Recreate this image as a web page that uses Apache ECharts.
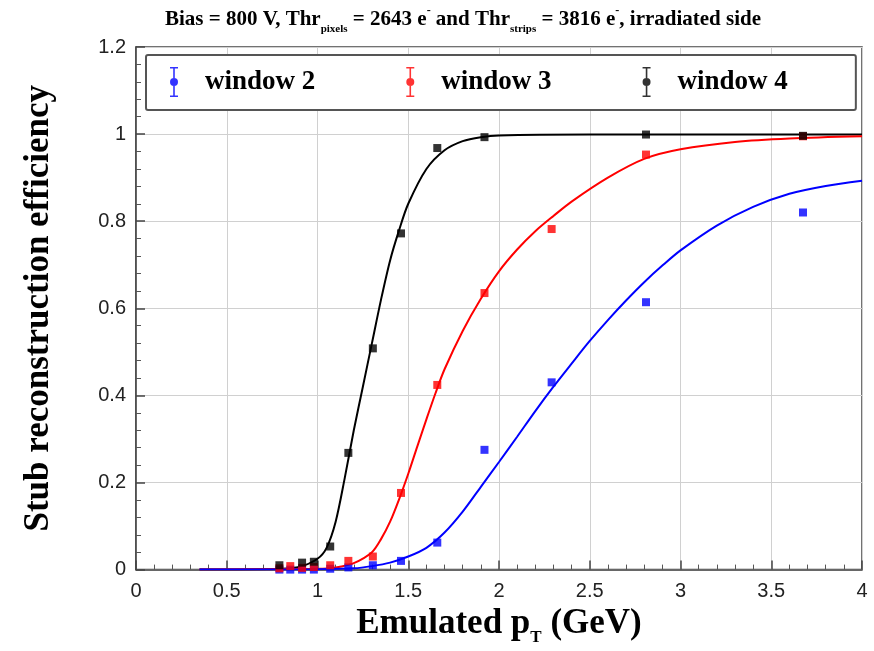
<!DOCTYPE html>
<html><head><meta charset="utf-8">
<script src="https://cdn.jsdelivr.net/npm/echarts@6/dist/echarts.min.js"></script>
<style>html,body{margin:0;padding:0;background:#fff}#c{width:874px;height:651px}</style>
</head><body><div id="c"></div>
<script>
// Measured points (x = emulated pT in GeV, y = efficiency)
const w2Points = [[0.79,0.0],[0.85,0.0],[0.915,0.0],[0.98,0.0],[1.07,0.002],[1.17,0.005],[1.305,0.01],[1.46,0.02],[1.66,0.062],[1.92,0.275],[2.29,0.43],[2.81,0.614],[3.675,0.82]];
const w3Points = [[0.79,0.003],[0.85,0.008],[0.915,0.004],[0.98,0.006],[1.07,0.01],[1.17,0.02],[1.305,0.03],[1.46,0.176],[1.66,0.424],[1.92,0.635],[2.29,0.782],[2.81,0.953],[3.675,0.995]];
const w4Points = [[0.79,0.01],[0.915,0.016],[0.98,0.018],[1.07,0.053],[1.17,0.268],[1.305,0.508],[1.46,0.772],[1.66,0.968],[1.92,0.993],[2.81,0.999],[3.675,0.996]];
// Fit curves
const w2Fit = [[0.35,0],[1.0,0.001],[1.2,0.003],[1.3,0.008],[1.4,0.016],[1.5,0.03],[1.6,0.05],[1.7,0.085],[1.8,0.133],[1.9,0.19],[2.0,0.247],[2.1,0.305],[2.2,0.364],[2.3,0.42],[2.4,0.473],[2.5,0.525],[2.6,0.573],[2.7,0.618],[2.8,0.66],[2.9,0.698],[3.0,0.733],[3.2,0.79],[3.4,0.833],[3.6,0.863],[3.8,0.881],[4.0,0.893]];
const w3Fit = [[0.35,0],[1.0,0.002],[1.1,0.005],[1.2,0.015],[1.3,0.04],[1.35,0.07],[1.4,0.11],[1.45,0.162],[1.5,0.22],[1.55,0.283],[1.6,0.345],[1.65,0.405],[1.7,0.46],[1.8,0.548],[1.9,0.622],[2.0,0.685],[2.1,0.735],[2.2,0.777],[2.3,0.812],[2.4,0.845],[2.6,0.9],[2.8,0.943],[3.0,0.965],[3.3,0.982],[3.6,0.99],[4.0,0.995]];
const w4Fit = [[0.35,0],[0.8,0.002],[0.9,0.006],[1.0,0.025],[1.05,0.05],[1.1,0.11],[1.15,0.21],[1.2,0.32],[1.25,0.42],[1.3,0.52],[1.35,0.62],[1.4,0.71],[1.45,0.78],[1.5,0.84],[1.6,0.92],[1.7,0.963],[1.8,0.984],[1.9,0.993],[2.0,0.997],[2.5,0.999],[4.0,0.999]];
const seriesNames = ['window 2','window 3','window 4'];
const seriesColors = ['#0000ff','#ff0000','#000000'];
const xTicks = {min:0, max:4, interval:0.5};
const yTicks = {min:0, max:1.2, interval:0.2};

const errIcon = 'path://M2,0 H10 V1.6 H2 Z M5.2,0 H6.8 V30 H5.2 Z M2,28.4 H10 V30 H2 Z M2,15 A4,4 0 1,1 10,15 A4,4 0 1,1 2,15 Z';
const serif = '"Liberation Serif","Times New Roman",serif';
const sans = '"Liberation Sans",Arial,sans-serif';

const chart = echarts.init(document.getElementById('c'), null, {renderer:'canvas'});
const fits = [w2Fit, w3Fit, w4Fit];
const pts = [w2Points, w3Points, w4Points];
const series = [];
[2,1,0].forEach(i => {
  series.push({type:'line', name:seriesNames[i]+' fit', data:fits[i], smooth:0.3, showSymbol:false, silent:true,
    lineStyle:{color:seriesColors[i], width:2}, z:2});
});
[0,1,2].forEach(i => {
  series.push({type:'scatter', name:seriesNames[i], data:pts[i], symbol:'rect', symbolSize:8,
    itemStyle:{color:seriesColors[i]}, z:3});
});

chart.setOption({
  animation:false,
  backgroundColor:'#fff',
  title:{
    left:160, top:0,
    text:'{b|Bias = 800 V, Thr}{sub|pixels}{b| = 2643 e}{sup|-}{b| and Thr}{sub|strips}{b| = 3816 e}{sup|-}{b|, irradiated side}',
    textStyle:{rich:{
      b:{fontFamily:serif, fontWeight:'bold', fontSize:21, color:'#000', lineHeight:30},
      sub:{fontFamily:serif, fontWeight:'bold', fontSize:11, color:'#000', verticalAlign:'bottom', lineHeight:12},
      sup:{fontFamily:serif, fontWeight:'bold', fontSize:12, color:'#000', verticalAlign:'top', lineHeight:14}
    }}
  },
  grid:{left:136, right:12, top:47, bottom:80, show:true, borderColor:'#444', borderWidth:1.5, backgroundColor:'transparent'},
  legend:{
    left:146, top:55,
    padding:[12,68,13,24],
    itemGap:91,
    itemWidth:12, itemHeight:30,
    borderColor:'#555', borderWidth:2, borderRadius:2, backgroundColor:'#fff',
    data:seriesNames.map((n,i)=>({name:n, icon:errIcon, itemStyle:{color:seriesColors[i]}})),
    textStyle:{fontFamily:serif, fontWeight:'bold', fontSize:27, color:'#000', padding:[0,0,0,20]}
  },
  xAxis:{
    type:'value', min:xTicks.min, max:xTicks.max, interval:xTicks.interval,
    name:'{b|Emulated p}{sub|T}{b| (GeV)}', nameLocation:'middle', nameGap:32,
    nameTextStyle:{rich:{
      b:{fontFamily:serif, fontWeight:'bold', fontSize:35, color:'#000', lineHeight:44},
      sub:{fontFamily:serif, fontWeight:'bold', fontSize:17, color:'#000', verticalAlign:'bottom', lineHeight:18}
    }},
    axisLine:{show:true, onZero:false, lineStyle:{color:'#444', width:1.5}},
    axisTick:{show:true, inside:true, length:9, lineStyle:{color:'#444', width:1.5}},
    minorTick:{show:true, splitNumber:5, length:5, lineStyle:{color:'#555', width:1}},
    axisLabel:{fontFamily:sans, fontSize:20, color:'#222', margin:12},
    splitLine:{show:true, lineStyle:{color:'#d0d0d0', width:1}}
  },
  yAxis:{
    type:'value', min:yTicks.min, max:yTicks.max, interval:yTicks.interval,
    name:'Stub reconstruction efficiency', nameLocation:'middle', nameGap:80,
    nameTextStyle:{fontFamily:serif, fontWeight:'bold', fontSize:35, color:'#000'},
    axisLine:{show:true, lineStyle:{color:'#444', width:1.5}},
    axisTick:{show:true, inside:true, length:9, lineStyle:{color:'#444', width:1.5}},
    minorTick:{show:true, splitNumber:5, length:5, lineStyle:{color:'#555', width:1}},
    axisLabel:{fontFamily:sans, fontSize:20, color:'#222', margin:10, formatter:v=>String(Math.round(v*10)/10)},
    splitLine:{show:true, lineStyle:{color:'#d0d0d0', width:1}}
  },
  series:series
});
</script></body></html>
